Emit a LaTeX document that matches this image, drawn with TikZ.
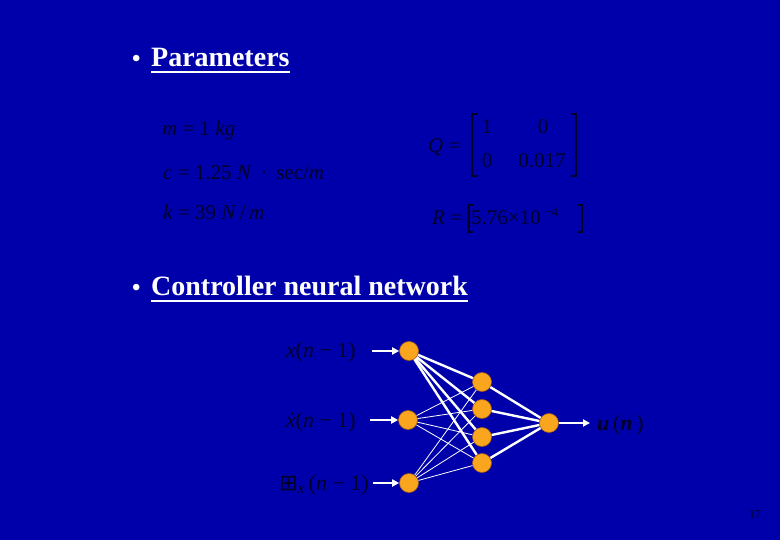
\documentclass[tikz,border=0pt]{standalone}
\usepackage{fontspec}
\setmainfont{Liberation Serif}
\newfontfamily\symfont{DejaVu Sans}
\usetikzlibrary{arrows.meta}
\definecolor{bg}{RGB}{0,0,170}
\definecolor{ink}{RGB}{0,0,40}
\definecolor{neuron}{RGB}{250,165,30}
\definecolor{neuronedge}{RGB}{170,95,20}
\tikzset{
  heading/.style={anchor=base west,inner sep=0pt,text=white,font=\fontsize{28}{34}\selectfont\bfseries},
  bulletmark/.style={anchor=base west,inner sep=0pt,text=white,font=\fontsize{24}{28}\selectfont\bfseries},
  eqn/.style={anchor=base west,inner sep=0pt,text=ink,font=\fontsize{21}{25}\selectfont},
  lbl/.style={anchor=base east,inner sep=0pt,text=ink,font=\fontsize{22}{26}\selectfont},
  bracketline/.style={draw=ink,line width=1.2pt},
  neuronnode/.style={circle,fill=neuron,draw=neuronedge,line width=0.6pt,minimum size=19pt,inner sep=0pt},
  thickedge/.style={draw=white,line width=2.4pt},
  thinedge/.style={draw=white,line width=0.8pt},
  sigarrow/.style={draw=white,line width=2pt,-{Triangle[length=7pt,width=7pt]}},
}
\begin{document}
\begin{tikzpicture}[x=1pt,y=-1pt]
\fill[bg] (0,0) rectangle (780,540);
\useasboundingbox (0,0) rectangle (780,540);

% headings
\node[bulletmark] (b1) at (132,67) {•};
\node[heading] (h1) at (151,67) {Parameters};
\draw[white,line width=1.6pt] ([yshift=-5pt]h1.base west) -- ([yshift=-5pt]h1.base east);
\node[bulletmark] (b2) at (132,296) {•};
\node[heading] (h2) at (151,296) {Controller neural network};
\draw[white,line width=1.6pt] ([yshift=-5pt]h2.base west) -- ([yshift=-5pt]h2.base east);

% parameters
\node[eqn] (pm) at (162,136) {\textit{m} = 1 \textit{kg}};
\node[eqn] (pc) at (163,180) {\textit{c} = 1.25 \textit{N}\, · \,sec/\textit{m}};
\node[eqn] (pk) at (163,220) {\textit{k} = 39 \textit{N}\,/\,\textit{m}};

% Q matrix
\node[eqn] (qq) at (428,153) {\textit{Q} =};
\node[eqn,anchor=base] (q11) at (487,134) {1};
\node[eqn,anchor=base] (q12) at (543,134) {0};
\node[eqn,anchor=base] (q21) at (487,168) {0};
\node[eqn,anchor=base] (q22) at (542,168) {0.017};
\draw[bracketline] (478,114) -- (472,114) -- (472,176) -- (478,176);
\draw[bracketline] (571,114) -- (576,114) -- (576,176) -- (571,176);

% R matrix
\node[eqn] (rr) at (432,225) {\textit{R} =};
\node[eqn] (rv) at (471,225) {5.76×10\,\raisebox{8pt}{\fontsize{13}{15}\selectfont −4}};
\draw[draw=ink,line width=2.6pt] (473,205) -- (468.5,205) -- (468.5,232) -- (473,232);
\draw[bracketline] (578,205) -- (582,205) -- (582,232) -- (578,232);

% network
\node[neuronnode] (i1) at (409,351) {};
\node[neuronnode] (i2) at (408,420) {};
\node[neuronnode] (i3) at (409,483) {};
\node[neuronnode] (h1n) at (482,382) {};
\node[neuronnode] (h2n) at (482,409) {};
\node[neuronnode] (h3n) at (482,437) {};
\node[neuronnode] (h4n) at (482,463) {};
\node[neuronnode] (o) at (549,423) {};

\foreach \h in {h1n,h2n,h3n,h4n}{
  \draw[thickedge] (i1) -- (\h);
  \draw[thinedge] (i2) -- (\h);
  \draw[thinedge] (i3) -- (\h);
  \draw[thickedge] (\h) -- (o);
}

\coordinate (a1) at (372,351);
\coordinate (a2) at (370,420);
\coordinate (a3) at (373,483);
\coordinate (uo) at (590,423);
\draw[sigarrow] (a1) -- (i1);
\draw[sigarrow] (a2) -- (i2);
\draw[sigarrow] (a3) -- (i3);
\draw[sigarrow] (o) -- (uo);

\node[lbl] (l1) at (356,358) {\textit{x}(\textit{n} − 1)};
\node[lbl] (l2) at (356,427) {\textit{\.{x}}(\textit{n} − 1)};
\node[lbl] (l3) at (369,490) {{\symfont ⊞}\textsubscript{\textit{x}}\,(\textit{n} − 1)};
\node[eqn,font=\fontsize{22}{26}\selectfont] (lu) at (597,430) {\textit{\textbf{u}}\,(\textit{\textbf{n}}\,)};

\node[anchor=base,inner sep=0pt,text=ink,font=\fontsize{12}{14}\selectfont] (pg) at (755,518) {17};
\end{tikzpicture}
\end{document}
